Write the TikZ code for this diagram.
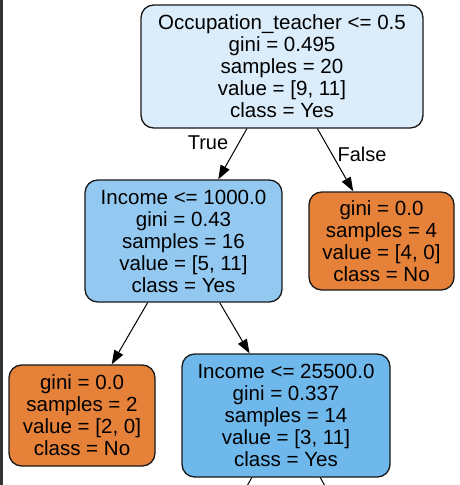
\documentclass[tikz,border=0pt]{standalone}
\usepackage{fontspec}
\setmainfont{Liberation Sans}
\usetikzlibrary{arrows.meta}
\definecolor{rootblue}{RGB}{219,237,250}
\definecolor{midblue}{RGB}{147,201,241}
\definecolor{deepblue}{RGB}{111,184,236}
\definecolor{leaforange}{RGB}{229,129,57}
\definecolor{sidebar}{RGB}{51,51,51}
\tikzset{
  treebox/.style={draw=black!90, line width=1pt, rounded corners=9.5pt, inner sep=0pt,
    align=center, font=\fontsize{15.4}{16.5}\selectfont},
  treeedge/.style={line width=0.75pt, -{Triangle[length=10.5pt,width=7.5pt]}},
  plainedge/.style={line width=0.75pt},
  edgelabel/.style={inner sep=0pt, font=\fontsize{15}{16}\selectfont}
}
\begin{document}
\begin{tikzpicture}[x=0.75pt,y=-0.75pt]
\useasboundingbox (0,0) rectangle (460,485);
\clip (0,0) rectangle (460,485);
\fill[white] (0,0) rectangle (460,485);
\fill[sidebar] (0,0) rectangle (3,485);

\node[treebox, fill=rootblue, minimum width=211.5pt, minimum height=92.25pt] (root) at (282,66.5)
  {Occupation\_teacher <= 0.5\\gini = 0.495\\samples = 20\\value = [9, 11]\\class = Yes};
\node[treebox, fill=midblue, minimum width=147.75pt, minimum height=91.5pt] (inc1) at (183.5,241)
  {Income <= 1000.0\\gini = 0.43\\samples = 16\\value = [5, 11]\\class = Yes};
\node[treebox, fill=leaforange, minimum width=108.75pt, minimum height=73.5pt] (leafR) at (381.5,241)
  {gini = 0.0\\samples = 4\\value = [4, 0]\\class = No};
\node[treebox, fill=leaforange, minimum width=109.5pt, minimum height=75.75pt] (leafL) at (82,415.5)
  {gini = 0.0\\samples = 2\\value = [2, 0]\\class = No};
\node[treebox, fill=deepblue, minimum width=156pt, minimum height=92.25pt] (inc2) at (286,415.5)
  {Income <= 25500.0\\gini = 0.337\\samples = 14\\value = [3, 11]\\class = Yes};

\coordinate (downL) at (189.5,590);
\coordinate (downR) at (382.5,590);

\draw[treeedge] (root) -- (inc1);
\draw[treeedge] (root) -- (leafR);
\draw[treeedge] (inc1) -- (leafL);
\draw[treeedge] (inc1) -- (inc2);
\draw[plainedge] (inc2) -- (downL);
\draw[plainedge] (inc2) -- (downR);

\node[edgelabel] (lblTrue) at (208,143) {True};
\node[edgelabel] (lblFalse) at (362,154) {False};
\end{tikzpicture}
\end{document}
